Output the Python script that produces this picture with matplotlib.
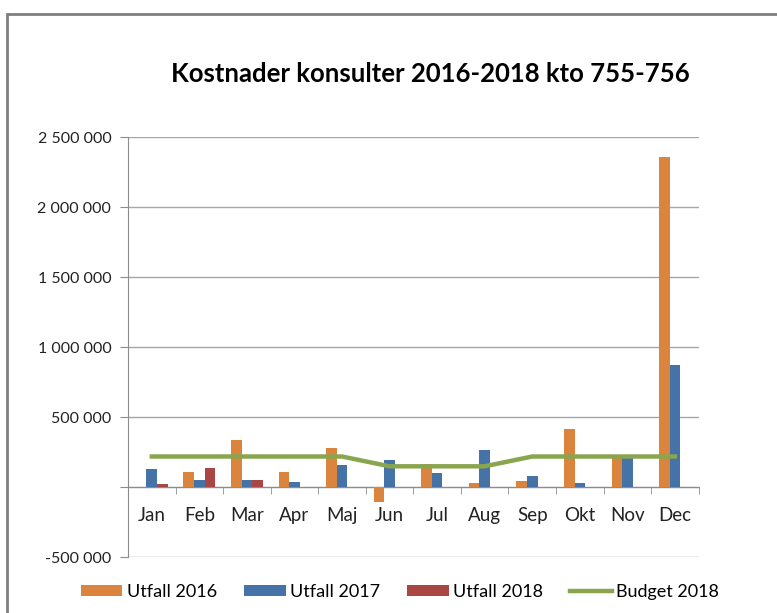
import numpy as np
import matplotlib.pyplot as plt
import matplotlib.ticker as mticker
from matplotlib.patches import Rectangle

plt.rcParams['font.family'] = ['Lato', 'DejaVu Sans']

months = ['Jan', 'Feb', 'Mar', 'Apr', 'Maj', 'Jun', 'Jul', 'Aug', 'Sep', 'Okt', 'Nov', 'Dec']
utfall_2016 = [0, 110000, 335000, 110000, 278000, -108000, 168000, 31000, 48000, 419000, 225000, 2362000]
utfall_2017 = [134000, 53000, 53000, 38000, 158000, 194000, 103000, 266000, 81000, 31000, 213000, 874000]
utfall_2018 = [24000, 136000, 53000, 0, 0, 0, 0, 0, 0, 0, 0, 0]
budget_2018 = [220000, 220000, 220000, 220000, 220000, 150000, 150000, 150000, 220000, 220000, 220000, 220000]

c16, c17, c18, cbud = '#DB843D', '#4572A7', '#AA4643', '#89A54E'
axis_grey = '#8C8C8C'

fig = plt.figure(figsize=(7.77, 6.13), dpi=100)
# outer chart border (cropped at right/bottom)
fig.patches.append(Rectangle((7 / 777, -0.1), 1.2, 1 - 14 / 613 + 0.1, transform=fig.transFigure,
                             fill=False, edgecolor='#7F7F7F', linewidth=2))

ax = fig.add_axes([128 / 777, 1 - 557.3 / 613, (698.7 - 128) / 777, (557.3 - 137.3) / 613])

x = np.arange(len(months))
w = 1 / 4.5
b16 = ax.bar(x - w, utfall_2016, w, color=c16, label='Utfall 2016', zorder=3)
b17 = ax.bar(x, utfall_2017, w, color=c17, label='Utfall 2017', zorder=3)
b18 = ax.bar(x + w, utfall_2018, w, color=c18, label='Utfall 2018', zorder=3)
lb, = ax.plot(x, budget_2018, color=cbud, lw=3.2, label='Budget 2018', zorder=4)

ax.set_xlim(-0.5, 11.5)
ax.set_ylim(-500000, 2500000)
ax.set_yticks(np.arange(-500000, 2500001, 500000))


def fmt(v, pos):
    if v == 0:
        return ''
    return f'{int(v):,}'.replace(',', ' ')


ax.yaxis.set_major_formatter(mticker.FuncFormatter(fmt))
ax.grid(axis='y', color='#A6A6A6', lw=1, zorder=0)

ax.set_xticks(x)
ax.set_xticklabels(months)
ax.set_xticks(np.arange(-0.5, 12, 1), minor=True)
ax.tick_params(axis='x', which='major', length=0, pad=14, labelsize=13.5, colors='#222222')
ax.tick_params(axis='x', which='minor', length=5, color=axis_grey, direction='out')
ax.tick_params(axis='y', length=6, color=axis_grey, labelsize=11.5, labelcolor='#222222', pad=6)

for s in ['top', 'right']:
    ax.spines[s].set_visible(False)
ax.spines['bottom'].set_position(('data', 0))
ax.spines['bottom'].set_color(axis_grey)
ax.spines['left'].set_color(axis_grey)

fig.text(430 / 777, 1 - 74 / 613, 'Kostnader konsulter 2016-2018 kto 755-756',
         ha='center', va='center', fontsize=18.5, fontweight='bold')

fig.legend(handles=[b16, b17, b18, lb], loc='center', bbox_to_anchor=(400 / 777, 1 - 592 / 613), ncol=4,
           frameon=False, fontsize=13, handlelength=2.3, handleheight=0.6, columnspacing=1.5,
           handletextpad=0.25)

fig.savefig('out.png', dpi=100)
